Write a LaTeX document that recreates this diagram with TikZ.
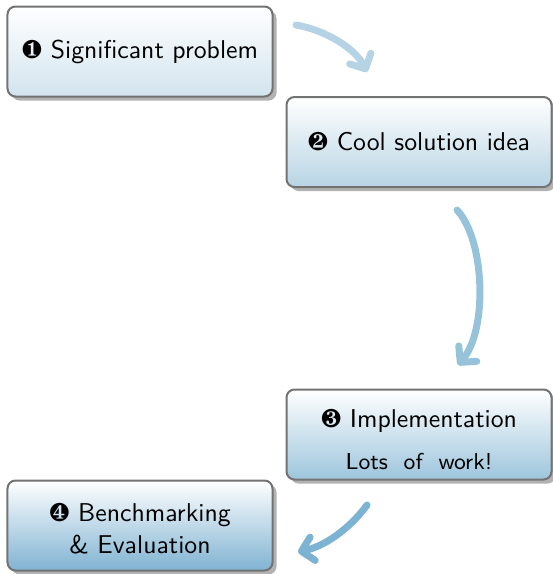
\documentclass[tikz,border=0pt]{standalone}
\usepackage{fontspec}
\usepackage{pifont}
\usetikzlibrary{shadows,arrows.meta}
\definecolor{boxA}{HTML}{D2E4EE}
\definecolor{boxB}{HTML}{B8D4E4}
\definecolor{boxC}{HTML}{9DC5DC}
\definecolor{boxD}{HTML}{80B3D2}
\definecolor{arrA}{HTML}{B5D3E5}
\definecolor{arrB}{HTML}{96C2DA}
\definecolor{arrC}{HTML}{7DB3D2}
\begin{document}
\begin{tikzpicture}[x=0.4pt,y=-0.4pt,
  stepbox/.style={draw=black!55, line width=0.8pt, rounded corners=3.2pt,
    minimum width=106pt, minimum height=36pt, inner sep=0pt, align=center,
    font=\sffamily\fontsize{10.3}{12.8}\selectfont,
    drop shadow={shadow xshift=1.6pt, shadow yshift=-1.6pt, fill=black!30, opacity=1}},
  flow/.style={line width=2.8pt, line cap=round,
    -{Straight Barb[round, length=4.6pt, width=9.5pt]}}]
\useasboundingbox (0,0) rectangle (553,574);
\node[stepbox, top color=white, bottom color=boxA] (n1) at (140,51.5) {\ding{182} Significant problem};
\node[stepbox, top color=white, bottom color=boxB] (n2) at (419,142) {\ding{183} Cool solution idea};
\node[stepbox, top color=white, bottom color=boxC] (n3) at (419,434.5) {\rule{0pt}{11pt}\ding{184} Implementation\\[4pt]{\fontsize{9.2}{12}\selectfont Lots\ \ of\ \ work!}};
\node[stepbox, top color=white, bottom color=boxD] (n4) at (140,525.5) {\rule{0pt}{9.5pt}\ding{185} Benchmarking\\\& Evaluation};
\coordinate (a1s) at (296,25);
\coordinate (a1e) at (367,72);
\coordinate (a2s) at (457,210);
\coordinate (a2e) at (458,365);
\coordinate (a3s) at (367,505);
\coordinate (a3e) at (298,552);
\draw[flow, arrA] (a1s) .. controls (325,30) and (355,48) .. (a1e);
\draw[flow, arrB] (a2s) .. controls (485,240) and (488,330) .. (a2e);
\draw[flow, arrC] (a3s) .. controls (355,522) and (330,545) .. (a3e);
\end{tikzpicture}
\end{document}
